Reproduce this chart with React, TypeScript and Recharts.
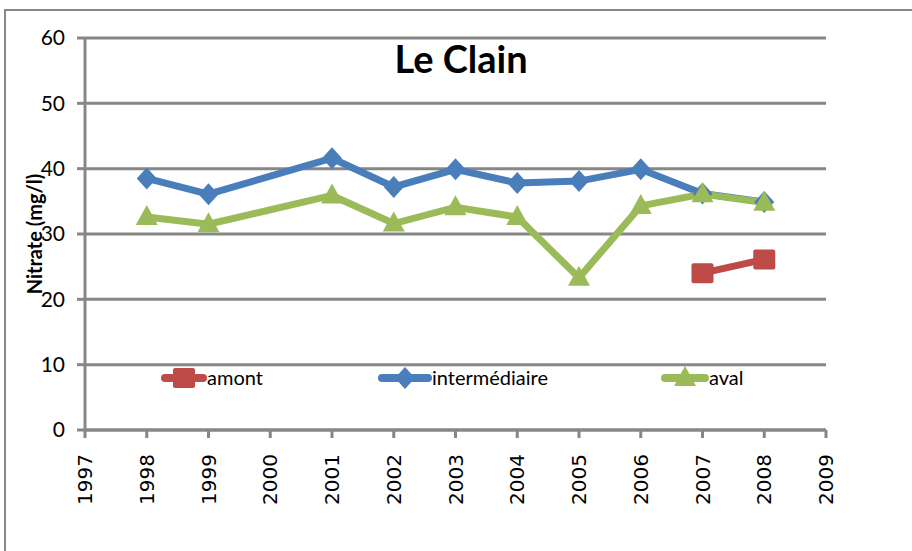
import { CartesianGrid, Legend, Line, LineChart, XAxis, YAxis } from "recharts";

const years = [1998, 1999, 2001, 2002, 2003, 2004, 2005, 2006, 2007, 2008];
const amont = [null, null, null, null, null, null, null, null, 24.0, 26.1];
const intermediaire = [38.5, 36.1, 41.6, 37.2, 39.9, 37.8, 38.1, 39.9, 36.2, 34.9];
const aval = [32.6, 31.5, 35.9, 31.6, 34.1, 32.6, 23.3, 34.3, 36.1, 34.8];
const xTicks = [1997, 1998, 1999, 2000, 2001, 2002, 2003, 2004, 2005, 2006, 2007, 2008, 2009];
const yTicks = [0, 10, 20, 30, 40, 50, 60];

const RED = "#be4b48";
const BLUE = "#4a7ebb";
const GREEN = "#9bbb59";
const AXIS = "#878787";
const NARROW = "Lato, 'Open Sans', sans-serif";

const data = years.map((y, i) => ({
  year: y,
  amont: amont[i],
  inter: intermediaire[i],
  aval: aval[i],
}));

function Square({ cx, cy, fill }: any) {
  if (cx == null || cy == null) return null;
  return <rect x={cx - 11} y={cy - 10} width={22} height={20} rx={2} fill={fill} />;
}

function Diamond({ cx, cy, fill }: any) {
  if (cx == null || cy == null) return null;
  return (
    <path d={`M${cx},${cy - 11} L${cx + 10},${cy} L${cx},${cy + 11} L${cx - 10},${cy} Z`} fill={fill} />
  );
}

function Triangle({ cx, cy, fill }: any) {
  if (cx == null || cy == null) return null;
  return <path d={`M${cx},${cy - 12} L${cx + 11},${cy + 8} L${cx - 11},${cy + 8} Z`} fill={fill} />;
}

function XTick({ x, y, payload }: any) {
  return (
    <text
      x={0}
      y={0}
      transform={`translate(${x + 7},${y + 14}) rotate(-90)`}
      textAnchor="end"
      fontSize={20}
      fontFamily="'DejaVu Sans', sans-serif"
      fill="#000"
    >
      {payload.value}
    </text>
  );
}

const legendItems = [
  { name: "amont", color: RED, Mark: Square, left: 165, line: 38 },
  { name: "intermédiaire", color: BLUE, Mark: Diamond, left: 382, line: 46 },
  { name: "aval", color: GREEN, Mark: Triangle, left: 665, line: 40 },
];

function LegendContent() {
  return (
    <svg width={912} height={30} style={{ overflow: "visible", display: "block" }}>
      {legendItems.map((it) => (
        <g key={it.name}>
          <line x1={it.left} x2={it.left + it.line} y1={14} y2={14} stroke={it.color} strokeWidth={8} strokeLinecap="round" />
          <it.Mark cx={it.left + it.line / 2} cy={14} fill={it.color} />
          <text x={it.left + it.line + 4} y={21} fontSize={20} fontFamily={NARROW} fill="#000">
            {it.name}
          </text>
        </g>
      ))}
    </svg>
  );
}

function YLabel({ viewBox }: any) {
  const cx = 37;
  const cy = viewBox.y + viewBox.height / 2;
  return (
    <text
      x={0}
      y={0}
      transform={`translate(${cx},${cy}) rotate(-90)`}
      textAnchor="middle"
      dominantBaseline="middle"
      fontSize={20}
      fontWeight="bold"
      fontFamily={NARROW}
      fill="#000"
    >
      Nitrate (mg/l)
    </text>
  );
}

export default function App() {
  return (
    <div style={{ position: "absolute", left: 0, top: 0, width: 912, height: 551, background: "#fff", overflow: "hidden" }}>
      <div
        style={{
          position: "absolute",
          left: 4,
          top: 9,
          width: 950,
          height: 600,
          borderLeft: `2px solid ${AXIS}`,
          borderTop: `2px solid ${AXIS}`,
        }}
      />
      <div
        style={{
          position: "absolute",
          left: 0,
          width: 922,
          top: 35,
          textAlign: "center",
          fontFamily: NARROW,
          fontWeight: "bold",
          fontSize: 38,
          color: "#000",
        }}
      >
        Le Clain
      </div>
      <div style={{ position: "absolute", left: 0, top: 0 }}>
        <LineChart width={912} height={551} data={data} margin={{ top: 38, right: 86, left: 0, bottom: 61 }}>
          <CartesianGrid vertical={false} stroke={AXIS} strokeWidth={3} />
          <XAxis
            dataKey="year"
            type="number"
            domain={[1997, 2009]}
            ticks={xTicks}
            interval={0}
            height={60}
            axisLine={{ stroke: AXIS, strokeWidth: 3 }}
            tickLine={{ stroke: AXIS, strokeWidth: 3 }}
            tickSize={8}
            tick={<XTick />}
          />
          <YAxis
            domain={[0, 60]}
            ticks={yTicks}
            width={85}
            axisLine={{ stroke: AXIS, strokeWidth: 3 }}
            tickLine={{ stroke: AXIS, strokeWidth: 3 }}
            tickSize={8}
            tickMargin={12}
            tick={{ fontSize: 21, fontFamily: NARROW, fill: "#000" }}
            label={<YLabel />}
          />
          <Legend
            layout="horizontal"
            verticalAlign="middle"
            content={<LegendContent />}
            wrapperStyle={{ position: "absolute", left: 0, top: 364, width: 912, height: 30 }}
          />
          <Line dataKey="amont" name="amont" stroke={RED} strokeWidth={7} dot={<Square fill={RED} />} isAnimationActive={false} />
          <Line
            dataKey="inter"
            name="intermédiaire"
            stroke={BLUE}
            strokeWidth={7}
            dot={<Diamond fill={BLUE} />}
            connectNulls
            isAnimationActive={false}
          />
          <Line dataKey="aval" name="aval" stroke={GREEN} strokeWidth={7} dot={<Triangle fill={GREEN} />} connectNulls isAnimationActive={false} />
        </LineChart>
      </div>
    </div>
  );
}
